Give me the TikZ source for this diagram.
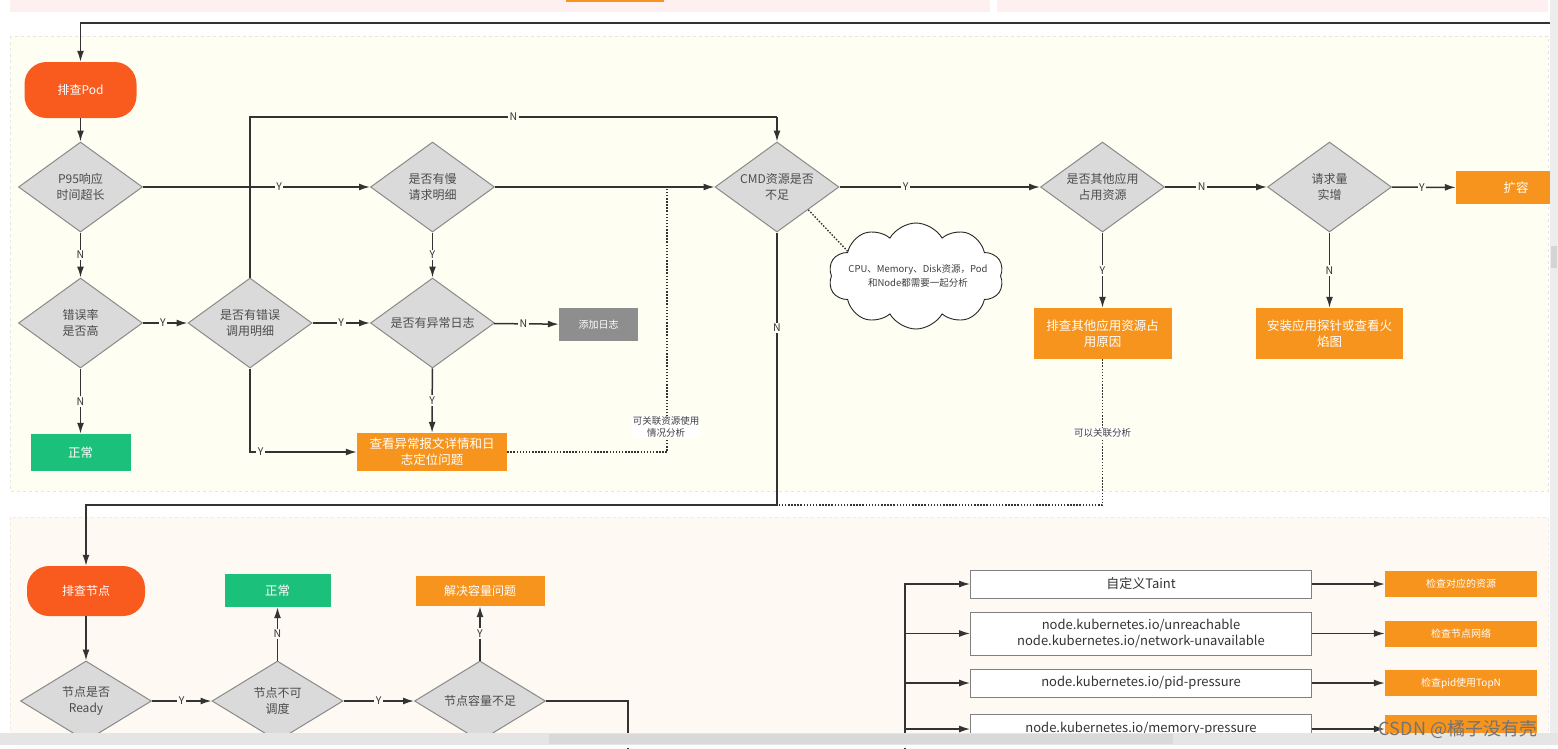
\documentclass[tikz,border=0pt]{standalone}
\usepackage{fontspec}
\setmainfont{Noto Sans CJK SC}
\usetikzlibrary{positioning,shapes.geometric,shapes.symbols,arrows.meta}
\definecolor{podred}{HTML}{F95B1F}
\definecolor{boxorange}{HTML}{F7941D}
\definecolor{okgreen}{HTML}{1BC07B}
\definecolor{loggray}{HTML}{8E8E8E}
\definecolor{decfill}{HTML}{DADADA}
\definecolor{decline}{HTML}{8A8A8A}
\definecolor{wire}{HTML}{333333}
\definecolor{podbg}{HTML}{FEFEF2}
\definecolor{nodebg}{HTML}{FEF9F2}
\definecolor{topbg}{HTML}{FEF0F0}
\tikzset{
  start/.style={rounded corners=22pt,fill=podred,text=white,font=\fontsize{12}{14}\selectfont},
  decision/.style={diamond,aspect=1.38,draw=decline,line width=1pt,fill=decfill,inner sep=0pt,
    minimum width=124pt,minimum height=90pt,align=center,text=black!70,font=\fontsize{12}{16}\selectfont},
  lowdecision/.style={decision,aspect=1.64,minimum width=131pt,minimum height=80pt},
  action/.style={fill=boxorange,text=white,align=center,inner sep=0pt,font=\fontsize{12.5}{16}\selectfont},
  okbox/.style={fill=okgreen,text=white,inner sep=0pt,font=\fontsize{12.5}{15}\selectfont},
  taint/.style={draw=black!50,line width=0.8pt,fill=white,text=black!80,align=center,inner sep=0pt,
    minimum width=341pt,font=\fontsize{13}{16}\selectfont},
  check/.style={fill=boxorange,text=white,inner sep=0pt,minimum width=152pt,minimum height=26pt,
    font=\fontsize{10}{12}\selectfont},
  flow/.style={draw=wire,line width=1.5pt,-{Latex[length=11pt,width=7pt]}},
  wireline/.style={draw=wire,line width=1.5pt},
  link/.style={draw=wire,line width=1.4pt,dash pattern=on 1.5pt off 1.6pt},
  lbl/.style={fill=podbg,inner sep=1.5pt,text=wire,font=\fontsize{10.5}{12}\selectfont},
  note/.style={fill=white,inner sep=1pt,align=center,text=black!75,font=\fontsize{9.5}{12}\selectfont},
}
\begin{document}
\begin{tikzpicture}[x=1pt,y=-1pt]
  \useasboundingbox (0,0) rectangle (1558,748);
  \clip (0,0) rectangle (1558,748);
  %% panels
  \fill[white] (0,0) rectangle (1558,748);
  \fill[topbg] (10,0) rectangle (990,12);
  \fill[topbg] (997,0) rectangle (1548,12);
  \fill[boxorange] (566,0) rectangle (664,2);
  \filldraw[fill=podbg,draw=black!10,dashed] (10,36) rectangle (1548,491);
  \filldraw[fill=nodebg,draw=black!8,dashed] (10,517) rectangle (1548,770);

  %% pod checks
  \node[start,minimum width=112pt,minimum height=56pt] (pod) at (80.5,90) {排查Pod};
  \node[decision] (p95) at (80.5,187) {P95响应\\时间超长};
  \node[decision] (slow) at (432.5,187) {是否有慢\\请求明细};
  \node[decision] (cmd) at (777,187) {CMD资源是否\\不足};
  \node[decision] (other) at (1102.5,187) {是否其他应用\\占用资源};
  \node[decision] (surge) at (1329.5,187) {请求量\\实增};
  \node[action,minimum width=120pt,minimum height=33pt] (expand) at (1516,187.5) {扩容};
  \node[decision] (err) at (80.5,323) {错误率\\是否高};
  \node[decision] (errcall) at (250,323) {是否有错误\\调用明细};
  \node[decision] (abnlog) at (432.5,323) {是否有异常日志};
  \node[fill=loggray,text=white,inner sep=0pt,minimum width=79pt,minimum height=33pt,
    font=\fontsize{10}{12}\selectfont] (addlog) at (598.5,324.5) {添加日志};
  \node[okbox,minimum width=100pt,minimum height=37pt] (ok1) at (80.5,452.5) {正常};
  \node[action,minimum width=150pt,minimum height=38pt] (detail) at (432,452) {查看异常报文详情和日\\志定位问题};
  \node[action,minimum width=138pt,minimum height=51pt] (otherfix) at (1102.5,333.5) {排查其他应用资源占\\用原因};
  \node[action,minimum width=147pt,minimum height=51pt] (probe) at (1329.5,333.5) {安装应用探针或查看火\\焰图};
  \node[cloud,cloud puffs=10,cloud puff arc=120,draw=black!85,line width=0.9pt,fill=white,
    minimum width=175pt,minimum height=106pt] (cloud) at (916,276) {};
  \node[align=center,text=black!75,font=\fontsize{9.5}{14}\selectfont] (cloudtxt) at (918,276)
    {CPU、Memory、Disk资源，Pod\\和Node都需要一起分析};

  \coordinate (loopin) at (1560,23);
  \coordinate (nloop) at (777,117);
  \coordinate (jn) at (667,187);
  \coordinate (ncorner) at (777,505);

  \draw[flow] (loopin) -| (pod.north);
  \draw[flow] (pod) -- (p95);
  \draw[flow] (p95) -- node[lbl,pos=0.6]{Y} (slow);
  \draw[flow] (slow) -- (cmd);
  \draw[flow] (cmd) -- node[lbl,pos=0.33]{Y} (other);
  \draw[flow] (other) -- node[lbl,pos=0.36]{N} (surge);
  \draw[flow] (surge) -- node[lbl,pos=0.47]{Y} (expand);
  \draw[flow] (p95) -- node[lbl]{N} (err);
  \draw[flow] (err) -- node[lbl]{N} (ok1);
  \draw[flow] (err) -- node[lbl,pos=0.45]{Y} (errcall);
  \draw[flow] (errcall) -- node[lbl]{Y} (abnlog);
  \draw[flow] (abnlog) -- node[lbl,pos=0.45]{N} (addlog);
  \draw[flow] (slow) -- node[lbl]{Y} (abnlog);
  \draw[flow] (abnlog) -- node[lbl]{Y} (detail);
  \draw[flow] (errcall.south) |- node[lbl,pos=0.55]{Y} (detail.west);
  \draw[wireline] (errcall.north) |- node[lbl,pos=0.75]{N} (nloop);
  \draw[flow] (nloop) -- (cmd.north);
  \draw[flow] (other) -- node[lbl]{Y} (otherfix);
  \draw[flow] (surge) -- node[lbl]{N} (probe);
  %% dotted hints
  \draw[link] (detail.east) -| (jn);
  \node[note] (usenote) at (666,427) {可关联资源使用\\情况分析};
  \draw[link] (cmd.south east) -- (cloud.160);
  \draw[link] (otherfix.south) |- (ncorner);
  \node[note] (relnote) at (1102.5,433) {可以关联分析};

  %% node checks
  \node[start,minimum width=118pt,minimum height=50pt] (nodechk) at (86,591) {排查节点};
  \node[lowdecision] (ready) at (86,701) {节点是否\\Ready};
  \node[lowdecision] (unsched) at (277.5,701) {节点不可\\调度};
  \node[lowdecision] (capacity) at (480,701) {节点容量不足};
  \node[okbox,minimum width=106pt,minimum height=33pt] (ok2) at (277.5,590.5) {正常};
  \node[action,minimum width=129pt,minimum height=30pt,font=\fontsize{12}{14}\selectfont] (fixcap) at (480,591) {解决容量问题};

  \draw[wireline] (cmd) -- node[lbl,pos=0.35]{N} (ncorner);
  \draw[flow] (ncorner) -| (nodechk.north);
  \draw[flow] (nodechk) -- (ready);
  \draw[flow] (ready) -- node[lbl,fill=nodebg]{Y} (unsched);
  \draw[flow] (unsched) -- node[lbl,fill=nodebg]{N} (ok2);
  \draw[flow] (unsched) -- node[lbl,fill=nodebg]{Y} (capacity);
  \draw[flow] (capacity) -- node[lbl,fill=nodebg]{Y} (fixcap);
  \coordinate (capdown) at (628,760);
  \draw[wireline] (capacity.east) -| (capdown);

  %% taints
  \node[taint,minimum height=28pt] (t1) at (1141,584) {自定义Taint};
  \node[taint,minimum height=43pt] (t2) at (1141,633.5) {node.kubernetes.io/unreachable\\node.kubernetes.io/network-unavailable};
  \node[taint,minimum height=28pt] (t3) at (1141,683) {node.kubernetes.io/pid-pressure};
  \node[taint,minimum height=30pt] (t4) at (1141,729) {node.kubernetes.io/memory-pressure};
  \node[check] (c1) at (1461,584) {检查对应的资源};
  \node[check] (c2) at (1461,633.5) {检查节点网络};
  \node[check] (c3) at (1461,683) {检查pid使用TopN};
  \node[check,minimum height=28pt] (c4) at (1461,729) {};
  \coordinate (trunkend) at (905,760);
  \draw[flow] (trunkend) |- (t1.west);
  \foreach \b in {t2,t3,t4}
    \draw[flow] (trunkend |- \b.west) -- (\b.west);
  \foreach \a/\b in {t1/c1,t2/c2,t3/c3,t4/c4}
    \draw[flow] (\a) -- (\b);

  %% window scrollbars
  \fill[black!10] (0,733) rectangle (1558,748);
  \fill[black!15] (549,734) rectangle (1173,744);
  \fill[white] (0,745) rectangle (1558,748);
  \fill[black!7] (1550,0) rectangle (1558,733);
  \fill[black!17] (1551,246) rectangle (1557,268);
  \node[text=black!55,font=\fontsize{18}{20}\selectfont,inner sep=0pt] (mark) at (1458,729) {CSDN @橘子没有壳};
\end{tikzpicture}
\end{document}
